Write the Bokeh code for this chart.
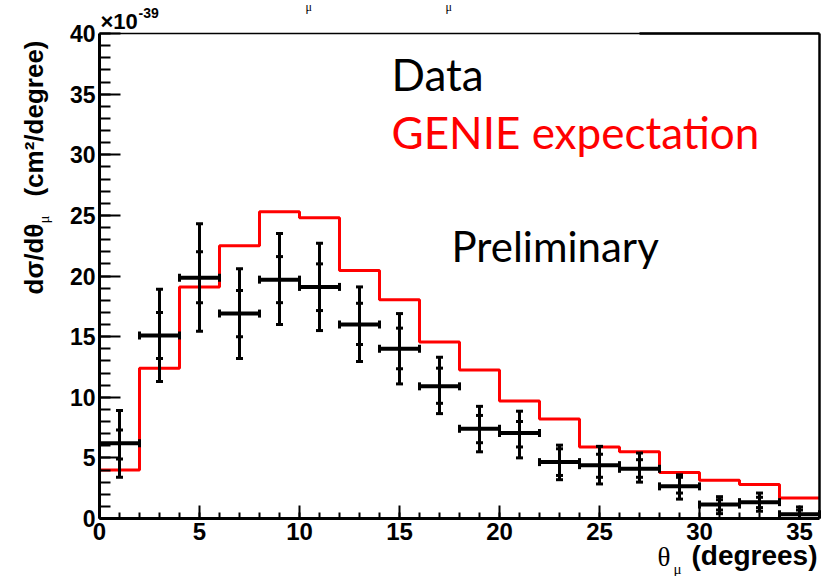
import math
from bokeh.plotting import figure
from bokeh.models import Label, FixedTicker, Range1d, LinearAxis
from bokeh.embed import file_html
from bokeh.resources import INLINE

# ---- data ----
bin_edges = [0, 2, 4, 6, 8, 10, 12, 14, 16, 18, 20, 22, 24, 26, 28, 30, 32, 34, 36]
bin_centers = [1, 3, 5, 7, 9, 11, 13, 15, 17, 19, 21, 23, 25, 27, 29, 31, 33, 35]
data_val = [6.2, 15.1, 19.85, 16.9, 19.7, 19.1, 16.0, 14.0, 10.9, 7.4, 7.05, 4.65, 4.4, 4.1, 2.65, 1.15, 1.35, 0.35]
stat_hi = [7.3, 17.0, 22.0, 18.8, 21.6, 21.0, 17.75, 15.7, 12.4, 8.5, 8.0, 5.75, 5.3, 4.85, 3.4, 1.55, 1.75, 0.7]
stat_lo = [4.9, 13.2, 17.8, 15.0, 17.8, 17.15, 14.35, 12.35, 9.5, 6.25, 5.9, 3.55, 3.4, 3.4, 2.1, 0.7, 0.9, 0.0]
tot_hi = [8.9, 18.9, 24.3, 20.6, 23.5, 22.7, 19.1, 16.9, 13.3, 9.25, 8.85, 6.05, 5.95, 5.4, 3.6, 1.8, 2.1, 0.95]
tot_lo = [3.4, 11.3, 15.45, 13.2, 16.0, 15.5, 12.95, 11.1, 8.65, 5.5, 5.0, 3.2, 2.85, 3.0, 1.6, 0.4, 0.6, 0.0]
genie_val = [4.0, 12.4, 19.1, 22.5, 25.3, 24.8, 20.45, 18.05, 14.55, 12.25, 9.7, 8.2, 5.9, 5.5, 3.8, 3.15, 2.8, 1.7]
x_ticks = [0, 5, 10, 15, 20, 25, 30, 35]
y_ticks = [0, 5, 10, 15, 20, 25, 30, 35, 40]
x_tick_labels = {t: str(t) for t in x_ticks}
y_tick_labels = {t: str(t) for t in y_ticks}

X0, X1 = 0, 36          # axis extent of the histogram
Y0, Y1 = 0, 40

W, H = 824, 576
# frame of the drawing area in canvas pixels (axes are drawn at fixed locations inside)
FL, FR, FT, FB = 99, 819, 33, 518
sx = (FR - FL) / (X1 - X0)
sy = (FB - FT) / (Y1 - Y0)

p = figure(width=W, height=H,
           x_range=Range1d(X0 - FL / sx, X1 + (W - FR) / sx),
           y_range=Range1d(Y0 - (H - FB) / sy, Y1 + FT / sy),
           output_backend="svg", toolbar_location=None,
           min_border_left=0, min_border_right=0, min_border_top=0, min_border_bottom=0)
p.title.visible = False
p.background_fill_color = "white"
p.border_fill_color = "white"
p.grid.visible = False
p.outline_line_color = None

# GENIE histogram
p.step(x=bin_edges, y=genie_val + [genie_val[-1]], mode="after", line_color="#ff0000", line_width=3)

# data error bars
p.segment(x0=bin_edges[:-1], y0=data_val, x1=bin_edges[1:], y1=data_val, line_color="black", line_width=4)
p.segment(x0=bin_centers, y0=tot_lo, x1=bin_centers, y1=tot_hi, line_color="black", line_width=3)
for ys in (tot_lo, tot_hi, stat_lo, stat_hi):
    p.rect(x=bin_centers, y=ys, width=7, height=3, width_units="screen", height_units="screen",
           fill_color="black", line_color=None)
p.rect(x=bin_edges[:-1], y=data_val, width=3, height=8, width_units="screen", height_units="screen",
       fill_color="black", line_color=None)
p.rect(x=bin_edges[1:], y=data_val, width=3, height=8, width_units="screen", height_units="screen",
       fill_color="black", line_color=None)

# axes at fixed locations
for ax, ticks, minors, labels, tin, mtin, loc, bnds in (
        (p.xaxis[0], x_ticks, list(range(X0, X1 + 1)), x_tick_labels, 13, 6, Y0, (X0, X1)),
        (p.yaxis[0], y_ticks, list(range(Y0, Y1 + 1)), y_tick_labels, 21, 11, X0, (Y0, Y1))):
    ax.fixed_location = loc
    ax.bounds = bnds
    ax.ticker = FixedTicker(ticks=ticks, minor_ticks=minors)
    ax.major_label_overrides = labels
    ax.major_tick_in = tin
    ax.major_tick_out = 0
    ax.minor_tick_in = mtin
    ax.minor_tick_out = 0
    ax.major_tick_line_width = 2
    ax.minor_tick_line_width = 2
    ax.major_tick_line_color = "black"
    ax.minor_tick_line_color = "black"
    ax.axis_line_width = 3
    ax.axis_line_color = "black"
    ax.major_label_text_font = "Liberation Sans"
    ax.major_label_text_font_style = "bold"
    ax.major_label_text_color = "black"
    ax.major_label_standoff = 4
p.xaxis.major_label_text_font_size = "24px"
p.yaxis.major_label_text_font_size = "23px"


# top and right frame borders
def border(side, loc, bnds, width):
    ax = LinearAxis(fixed_location=loc, bounds=bnds, ticker=FixedTicker(ticks=[]),
                    axis_line_width=width, axis_line_color="black",
                    major_tick_line_color=None, minor_tick_line_color=None,
                    major_label_text_font_size="0px")
    p.add_layout(ax, side)


border("above", Y1, (X0, X1), 1.5)
border("above", Y1, (27, X1), 2.5)
border("right", X1, (Y0, Y1), 2.5)


def rx(X):
    return X0 + (X - FL) / sx


def ry(Y):
    return Y0 + (FB - Y) / sy


K = 0.4  # baseline correction (fraction of font size)


def lab(text, X, Y, size, font="Liberation Sans", style="bold", color="black",
        align="left", angle=0.0):
    if angle == 0.0:
        Y = Y - K * size
    else:
        X = X - K * size
    p.add_layout(Label(x=rx(X), y=ry(Y), text=text, text_font_size=f"{size}px",
                       text_font=font, text_font_style=style, text_color=color,
                       text_align=align, text_baseline="alphabetic", angle=angle))


# legend-like texts
lab("Data", 391, 91, 44, font="Lato", style="normal")
lab("GENIE expectation", 391, 149, 44, font="Lato", style="normal", color="#ff0000")
lab("Preliminary", 451, 262, 42, font="Lato", style="normal")

# exponent
lab("\u00d710", 100, 30, 22)
lab("-39", 138, 18, 14)

# cut-off title remnants at the top edge
lab("\u03bc", 305, 11, 12, font="Liberation Serif", style="normal")
lab("\u03bc", 445, 11, 12, font="Liberation Serif", style="normal")

# x-axis title
lab("(degrees)", 817, 566, 28, align="right")
lab("\u03b8", 657, 567, 27, font="Liberation Serif", style="normal")
lab("\u03bc", 673, 574, 15, font="Liberation Serif", style="normal")

# y-axis title (rotated)
ang = math.pi / 2
lab("d\u03c3/d\u03b8", 44, 294, 26, angle=ang)
lab("\u03bc", 49, 223, 15, font="Liberation Serif", style="normal", angle=ang)
lab("(cm\u00b2/degree)", 44, 40, 26, align="right", angle=ang)

open("out.html", "w").write(file_html(p, INLINE))
